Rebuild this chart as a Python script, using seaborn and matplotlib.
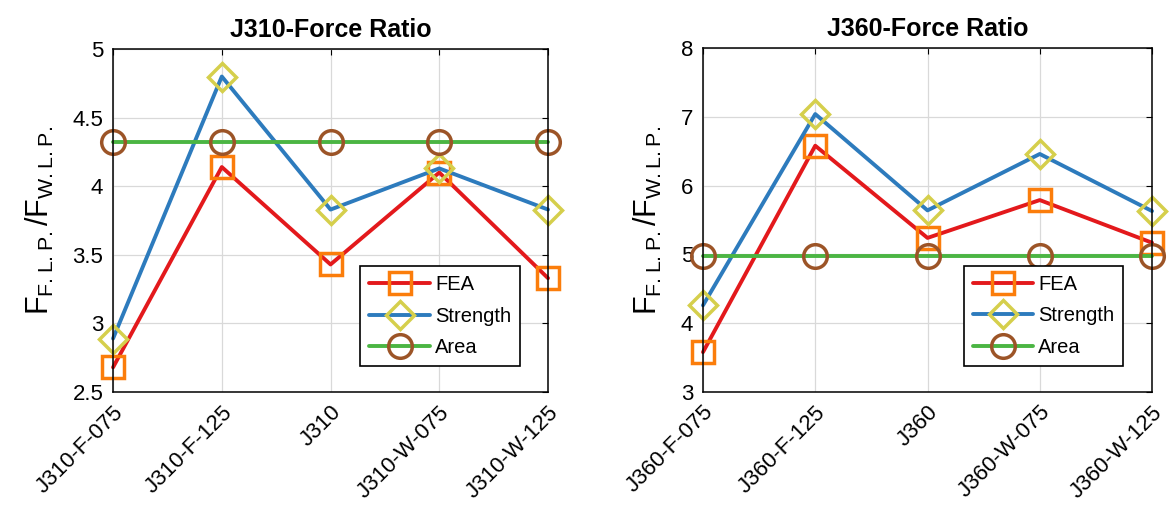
import pandas as pd
import matplotlib
matplotlib.use("Agg")
import matplotlib.pyplot as plt
import seaborn as sns

# J310 panel
j310_cases = ["J310-F-075", "J310-F-125", "J310", "J310-W-075", "J310-W-125"]
j310_fea = [2.68, 4.14, 3.43, 4.10, 3.33]
j310_strength = [2.89, 4.80, 3.83, 4.13, 3.83]
j310_area = [4.32, 4.32, 4.32, 4.32, 4.32]

# J360 panel
j360_cases = ["J360-F-075", "J360-F-125", "J360", "J360-W-075", "J360-W-125"]
j360_fea = [3.58, 6.58, 5.24, 5.79, 5.17]
j360_strength = [4.26, 7.04, 5.64, 6.46, 5.63]
j360_area = [4.97, 4.97, 4.97, 4.97, 4.97]

series_names = ["FEA", "Strength", "Area"]
line_colors = ["#e3191c", "#2d7bbd", "#4bb543"]
marker_colors = ["#fb7d0b", "#d5cf4c", "#9c5427"]
markers = ["s", "D", "o"]
marker_sizes = [15.5, 14, 17]


def to_long(cases, fea, strength, area):
    rows = []
    for name, vals in zip(series_names, [fea, strength, area]):
        for c, v in zip(cases, vals):
            rows.append({"case": c, "ratio": v, "method": name})
    return pd.DataFrame(rows)


def draw_panel(ax, df, title, ylim, yticks, yticklabels, legend_anchor):
    for name, lc, mc, mk, ms in zip(series_names, line_colors, marker_colors, markers, marker_sizes):
        sub = df[df["method"] == name]
        sns.lineplot(data=sub, x="case", y="ratio", ax=ax, color=lc, linewidth=2.8,
                     marker=mk, markersize=ms, markerfacecolor="none",
                     markeredgecolor=mc, markeredgewidth=2.5, label=name,
                     clip_on=False, sort=False, legend=False)
    ax.set_xlim(0, 4)
    ax.set_ylim(*ylim)
    ax.set_yticks(yticks)
    ax.set_yticklabels(yticklabels)
    ax.set_xticks(range(5))
    ax.set_xticklabels(df["case"].unique(), rotation=45, ha="right",
                       rotation_mode="anchor")
    ax.set_xlabel("")
    ax.set_ylabel(r"$\mathregular{F_{F.L.P.}/F_{W.L.P.}}$", fontsize=22,
                  labelpad=12, color="black")
    ax.set_title(title, fontsize=18, fontweight="bold", pad=9, color="black")
    ax.grid(True, color="#d9d9d9", linewidth=0.9)
    ax.set_axisbelow(True)
    for sp in ax.spines.values():
        sp.set_color("black")
        sp.set_linewidth(1.1)
        sp.set_visible(True)
    ax.tick_params(axis="both", direction="in", length=4, width=0.8,
                   top=True, right=True, labelsize=16, color="black",
                   labelcolor="black", pad=7)
    leg = ax.legend(loc="lower right", bbox_to_anchor=legend_anchor, fontsize=14.5,
                    frameon=True, fancybox=False, edgecolor="black",
                    handlelength=3.0, borderpad=0.45, labelspacing=0.6,
                    handletextpad=0.25, borderaxespad=0.2)
    leg.get_frame().set_linewidth(1.2)
    leg.get_frame().set_alpha(1)
    for t in leg.get_texts():
        t.set_color("black")


def main():
    sns.set_theme(style="whitegrid")
    plt.rcParams["font.family"] = ["Liberation Sans", "DejaVu Sans"]
    plt.rcParams["mathtext.fontset"] = "custom"
    plt.rcParams["mathtext.rm"] = "Liberation Sans"

    fig = plt.figure(figsize=(11.74, 5.22), dpi=100)
    ax1 = fig.add_axes([0.0963, 0.249, 0.3705, 0.657])
    ax2 = fig.add_axes([0.5988, 0.249, 0.3825, 0.659])

    df1 = to_long(j310_cases, j310_fea, j310_strength, j310_area)
    df2 = to_long(j360_cases, j360_fea, j360_strength, j360_area)

    draw_panel(ax1, df1, "J310-Force Ratio", (2.5, 5),
               [2.5, 3, 3.5, 4, 4.5, 5], ["2.5", "3", "3.5", "4", "4.5", "5"],
               (0.945, 0.065))
    draw_panel(ax2, df2, "J360-Force Ratio", (3, 8),
               [3, 4, 5, 6, 7, 8], ["3", "4", "5", "6", "7", "8"],
               (0.945, 0.065))

    fig.savefig("out.png", dpi=100, facecolor="white")
    plt.close(fig)


if __name__ == "__main__":
    main()
